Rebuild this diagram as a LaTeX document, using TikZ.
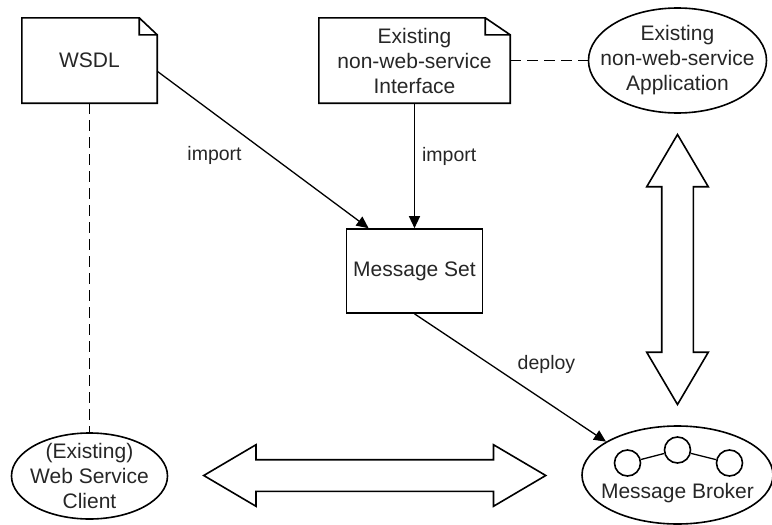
\documentclass[tikz,border=0pt]{standalone}
\usepackage{fontspec}
\setmainfont{Liberation Sans}
\usetikzlibrary{shapes.geometric,shapes.arrows,arrows.meta,calc}

\begin{document}
\begin{tikzpicture}[x=1pt, y=-1pt,
  txt/.style = {align=center, text=black!85, font=\fontsize{21}{25}\selectfont},
  doc/.style = {txt, rectangle, minimum height=85pt},
  box/.style = {txt, draw, rectangle, line width=1.6pt},
  ell/.style = {txt, draw, ellipse, line width=1.6pt},
  hub/.style = {draw, circle, line width=1.6pt, minimum size=26pt, inner sep=0pt},
  dbl/.style = {draw, double arrow, line width=1.6pt, inner xsep=0pt, inner ysep=15pt,
                double arrow head extend=15pt, double arrow tip angle=61},
  lbl/.style = {text=black!85, font=\fontsize{19.5}{23}\selectfont, inner sep=1pt},
  flow/.style = {line width=1.3pt, -{Triangle[length=12pt,width=11pt]}},
  dashln/.style = {line width=1.8pt, dash pattern=on 11pt off 6pt}]
\useasboundingbox (0,0) rectangle (772,525);

% top row
\node[doc, minimum width=135pt] (wsdl) at (89.5,60.5) {WSDL};
\node[doc, minimum width=191pt] (iface) [right of = wsdl, node distance=325pt] {Existing\\non-web-service\\Interface};
\node[ell, minimum width=178pt, minimum height=105pt, inner xsep=-15pt, inner ysep=0pt] (app) [right of = iface, node distance=263pt] {Existing\\non-web-service\\Application};

% middle and bottom
\node[box, minimum width=136pt, minimum height=84pt] (mset) [below of = iface, node distance=210.5pt] {Message Set};
\node[ell, minimum width=156pt, minimum height=86pt, inner xsep=-5pt, inner ysep=-6pt] (client) [below of = wsdl, node distance=415.5pt] {(Existing)\\Web Service\\Client};
\node[ell, minimum width=191pt, minimum height=98pt, inner sep=0pt] (broker) [below of = app, node distance=414.5pt] {};

% inside the broker
\node[hub] (hub2) [above of = broker, node distance=25pt] {};
\node[hub] (hub1) at ($(hub2)+(-50,13)$) {};
\node[hub] (hub3) at ($(hub2)+(52,13)$) {};
\node[txt] (bname) [below of = broker, node distance=18pt] {Message Broker};
\draw[line width=1.3pt] (hub1) -- (hub2) -- (hub3);

% folded corners
\foreach \n/\f in {wsdl/18pt, iface/25pt}
  \draw[line width=1.6pt]
    (\n.south west) -- (\n.north west) -- ([xshift=-\f]\n.north east)
    -- ([yshift=-17pt]\n.north east) -- (\n.south east) -- cycle
    ([xshift=-\f]\n.north east) |- ([yshift=-17pt]\n.north east);

% connectors
\draw[flow] (wsdl.-9.7) -- node[lbl, pos=0.535, left=27pt] (imp1) {import} (mset.137);
\draw[flow] (iface.south) -- node[lbl, pos=0.43, right=6pt] (imp2) {import} (mset.north);
\draw[flow] (mset.south) -- node[lbl, pos=0.4, right=25pt] (dep) {deploy} (broker.155);
\draw[dashln] (iface.east) -- (app.west);
\draw[dashln] (wsdl.south) -- (client.north);

% two-way links
\node[dbl, minimum height=342pt] (wire) at ($(client.east)!0.5!(broker.west)$) {};
\node[dbl, minimum height=270pt, rotate=90] (bridge) at ($(app.south)!0.5!(broker.north)$) {};
\end{tikzpicture}
\end{document}
